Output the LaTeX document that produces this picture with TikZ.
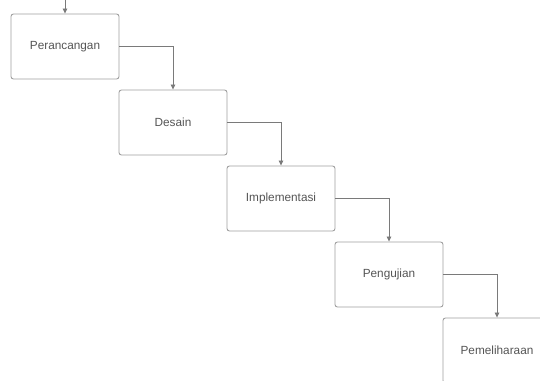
\documentclass[tikz,border=0pt]{standalone}
\usepackage{fontspec}
\setmainfont{Liberation Sans}
\usetikzlibrary{arrows.meta}
\definecolor{boxline}{HTML}{A0A0A0}
\definecolor{conline}{HTML}{7A7A7A}
\definecolor{txt}{HTML}{555555}
\tikzset{
  stagebox/.style={draw=boxline, line width=0.9pt, rounded corners=2.5pt, fill=white,
    minimum width=108pt, minimum height=65pt, inner sep=0pt,
    text=txt, font=\fontsize{11.8}{14}\selectfont},
  flow/.style={draw=conline, line width=0.8pt, -{Triangle[length=5pt,width=4.5pt]}}
}
\begin{document}
\begin{tikzpicture}[x=1pt,y=-1pt]
\useasboundingbox (0,0) rectangle (540,380);
\clip (0,0) rectangle (540,380);
\fill[white] (0,0) rectangle (540,380);
\node[stagebox] (p) at (65,46.5) {Perancangan};
\node[stagebox] (d) at (173,122.5) {Desain};
\node[stagebox] (i) at (281,198.5) {Implementasi};
\node[stagebox] (u) at (389,274.5) {Pengujian};
\node[stagebox] (m) at (497,350.5) {Pemeliharaan};
\coordinate (start) at (65,0);
\draw[flow] (start) -- (p.north);
\draw[flow] (p.east) -| (d.north);
\draw[flow] (d.east) -| (i.north);
\draw[flow] (i.east) -| (u.north);
\draw[flow] (u.east) -| (m.north);
\end{tikzpicture}
\end{document}
